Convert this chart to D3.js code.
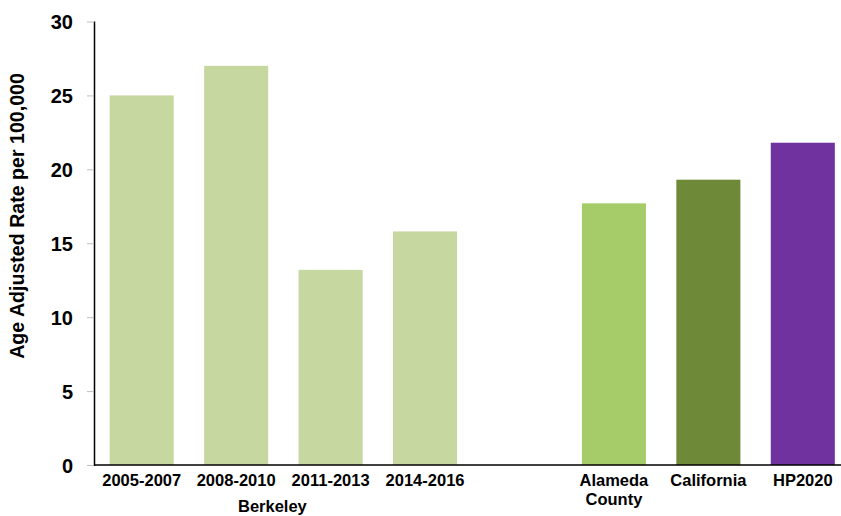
<!DOCTYPE html>
<html>
<head>
<meta charset="utf-8">
<script src="https://cdn.jsdelivr.net/npm/d3@7"></script>
<style>
  html, body { margin: 0; padding: 0; background: #fff; }
  svg { display: block; font-family: "Liberation Sans", Arial, sans-serif; }
</style>
</head>
<body>
<svg id="chart" width="841" height="516"></svg>
<script>
const categories = ["2005-2007", "2008-2010", "2011-2013", "2014-2016", "gap", "Alameda County", "California", "HP2020"];
const values = [25, 27, 13.2, 15.8, null, 17.7, 19.3, 21.8];
const labelLines = [["2005-2007"], ["2008-2010"], ["2011-2013"], ["2014-2016"], [], ["Alameda", "County"], ["California"], ["HP2020"]];
const barColors = ["#c6d7a0", "#c6d7a0", "#c6d7a0", "#c6d7a0", null, "#a6cc6a", "#6e8a39", "#70329e"];
const yTicks = [0, 5, 10, 15, 20, 25, 30];
const groupLabel = "Berkeley";
const yTitle = "Age Adjusted Rate per 100,000";

const svg = d3.select("#chart");
const mLeft = 94.5, mTop = 21.5, mBottom = 465;
const x = d3.scaleBand().domain(categories).range([mLeft, mLeft + 8 * 94.44]).paddingInner(0.322).paddingOuter(0.161);
const y = d3.scaleLinear().domain([0, 30]).range([mBottom, mTop]);

// bars
const data = categories.map((c, i) => ({ c, v: values[i], col: barColors[i] })).filter(d => d.v != null);
svg.append("g").selectAll("rect").data(data).join("rect")
  .attr("x", d => x(d.c))
  .attr("y", d => y(d.v))
  .attr("width", x.bandwidth())
  .attr("height", d => y(0) - y(d.v))
  .attr("fill", d => d.col);

// y axis
const yAxis = svg.append("g").attr("transform", `translate(${mLeft - 1.5},0)`)
  .call(d3.axisLeft(y).tickValues(yTicks).tickSize(6).tickPadding(14).tickFormat(d3.format("d")));
yAxis.select(".domain").remove();
yAxis.selectAll(".tick line").attr("stroke", "#bfbfbf");
yAxis.selectAll(".tick text").attr("font-size", 20).attr("font-weight", "bold").attr("fill", "#000")
  .attr("font-family", "Liberation Sans, Arial, sans-serif").attr("dy", "0.36em");
svg.append("line").attr("x1", mLeft).attr("x2", mLeft).attr("y1", mTop).attr("y2", mBottom + 1)
  .attr("stroke", "#000").attr("stroke-width", 1.5);

// x axis line
svg.append("line").attr("x1", mLeft).attr("x2", 841).attr("y1", mBottom).attr("y2", mBottom)
  .attr("stroke", "#000").attr("stroke-width", 1.5);

// x labels
const xl = svg.append("g");
categories.forEach((c, i) => {
  labelLines[i].forEach((t, j) => {
    xl.append("text")
      .attr("x", x(c) + x.bandwidth() / 2)
      .attr("y", 486 + j * 18.5)
      .attr("text-anchor", "middle")
      .attr("font-size", 16.5).attr("font-weight", "bold").attr("fill", "#000")
      .text(t);
  });
});

// group label
const gx = (x(categories[1]) + x(categories[2]) + x.bandwidth()) / 2;
svg.append("text").attr("x", gx - 11).attr("y", 512).attr("text-anchor", "middle")
  .attr("font-size", 16.5).attr("font-weight", "bold").attr("fill", "#000").text(groupLabel);

// y title
svg.append("text").attr("transform", "translate(24,216) rotate(-90)")
  .attr("text-anchor", "middle").attr("font-size", 19.6).attr("font-weight", "bold").attr("fill", "#000")
  .text(yTitle);
</script>
</body>
</html>
